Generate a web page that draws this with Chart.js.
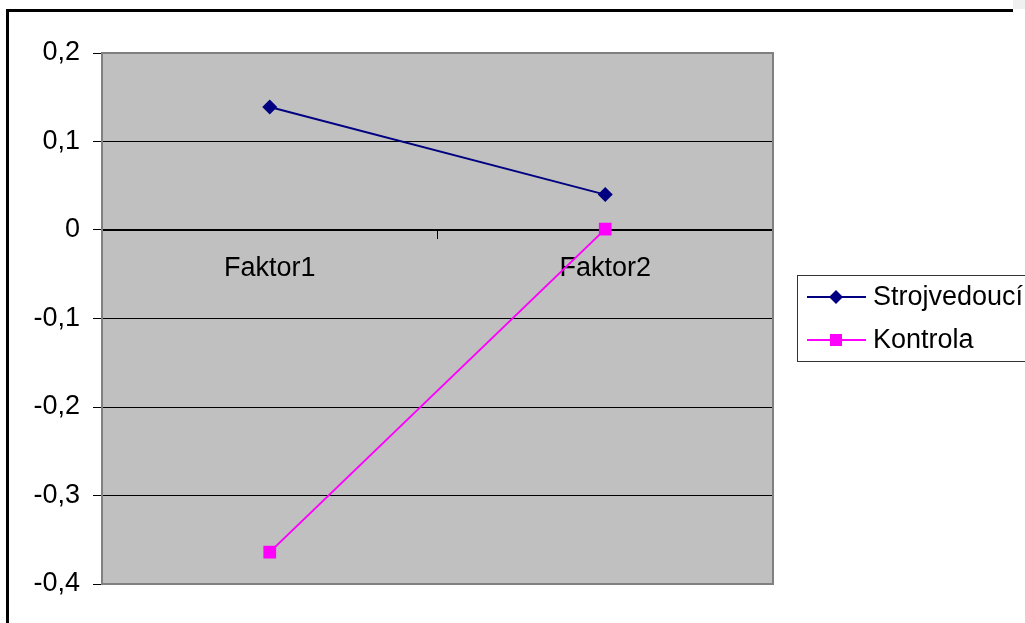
<!DOCTYPE html>
<html><head><meta charset="utf-8">
<script src="https://cdn.jsdelivr.net/npm/chart.js@4/dist/chart.umd.min.js"></script>
<style>html,body{margin:0;padding:0;background:#fff;overflow:hidden}#wrap{width:1025px;height:623px;position:relative}</style>
</head><body><div id="wrap"><canvas id="c" width="1025" height="623"></canvas></div>
<script>
const categories = ['Faktor1', 'Faktor2'];
const seriesNames = ['Strojvedoucí', 'Kontrola'];
const strojvedouci = [0.139, 0.04];
const kontrola = [-0.364, 0.001];
const yMin = -0.4, yMax = 0.2, yStep = 0.1;
const FONT = '"Liberation Sans", Arial, sans-serif';
const FS = 27;

const frame = {
  id: 'frame',
  beforeDraw(chart) {
    const ctx = chart.ctx, a = chart.chartArea;
    ctx.save();
    ctx.fillStyle = '#fff'; ctx.fillRect(0, 0, chart.width, chart.height);
    ctx.fillStyle = '#f0f0f0'; ctx.fillRect(1013, 0, 12, 9);
    ctx.fillStyle = '#000';
    ctx.fillRect(7, 9, 1006, 3);
    ctx.fillRect(6, 9, 3, chart.height);
    ctx.fillStyle = '#c0c0c0';
    ctx.fillRect(a.left, a.top, a.right - a.left, a.bottom - a.top);
    ctx.restore();
  },
  beforeDatasetsDraw(chart) {
    const ctx = chart.ctx, a = chart.chartArea;
    ctx.save();
    ctx.strokeStyle = '#808080'; ctx.lineWidth = 2;
    ctx.strokeRect(a.left, a.top, a.right - a.left, a.bottom - a.top);
    ctx.restore();
  },
  afterDraw(chart) {
    const ctx = chart.ctx;
    ctx.save();
    ctx.strokeStyle = '#333'; ctx.lineWidth = 1;
    ctx.strokeRect(797.5, 275.5, 260, 86);
    const rows = [297, 340];
    chart.data.datasets.forEach((ds, i) => {
      const y = rows[i];
      ctx.strokeStyle = ds.borderColor; ctx.lineWidth = 2;
      ctx.beginPath(); ctx.moveTo(807, y); ctx.lineTo(866, y); ctx.stroke();
      ctx.fillStyle = ds.borderColor;
      const cx = 836;
      if (ds.pointStyle === 'rectRot') {
        ctx.beginPath(); ctx.moveTo(cx - 7, y); ctx.lineTo(cx, y - 7); ctx.lineTo(cx + 7, y); ctx.lineTo(cx, y + 7); ctx.closePath(); ctx.fill();
      } else {
        ctx.fillRect(cx - 6, y - 6, 12, 12);
      }
      ctx.fillStyle = '#000';
      ctx.font = FS + 'px ' + FONT;
      ctx.textBaseline = 'middle'; ctx.textAlign = 'left';
      ctx.fillText(ds.label, 873, y + 1);
    });
    ctx.restore();
  }
};

new Chart(document.getElementById('c'), {
  type: 'line',
  data: {
    labels: categories,
    datasets: [
      { label: seriesNames[0], data: strojvedouci, borderColor: '#000080', backgroundColor: '#000080', borderWidth: 2, pointStyle: 'rectRot', pointRadius: 7.5, pointBorderWidth: 0, tension: 0, fill: false },
      { label: seriesNames[1], data: kontrola, borderColor: '#ff00ff', backgroundColor: '#ff00ff', borderWidth: 2, pointStyle: 'rect', pointRadius: 9, pointBorderWidth: 0, tension: 0, fill: false }
    ]
  },
  options: {
    responsive: false,
    devicePixelRatio: 1,
    animation: false,
    events: [],
    layout: { padding: { left: 0, right: 252, top: 53, bottom: 39 } },
    plugins: { legend: { display: false }, tooltip: { enabled: false }, title: { display: false } },
    scales: {
      x: {
        type: 'category',
        position: { y: 0 },
        offset: true,
        grid: { display: true, drawOnChartArea: false, drawTicks: true, tickLength: 8, color: '#000', lineWidth: 1, offset: true },
        border: { display: true, color: '#000', width: 1 },
        ticks: { font: { family: FONT, size: FS }, color: '#000', padding: 14, maxRotation: 0, autoSkip: false }
      },
      y: {
        min: yMin, max: yMax,
        afterFit(scale) { scale.width = 102; },
        grid: { color: '#000', lineWidth: 1, tickLength: 9, drawTicks: true },
        border: { display: true, color: '#808080', width: 2 },
        ticks: {
          stepSize: yStep, padding: 13, color: '#000', font: { family: FONT, size: FS },
          callback: v => String(Math.round(v * 10) / 10).replace('.', ',')
        }
      }
    }
  },
  plugins: [frame]
});
</script>
</body></html>
